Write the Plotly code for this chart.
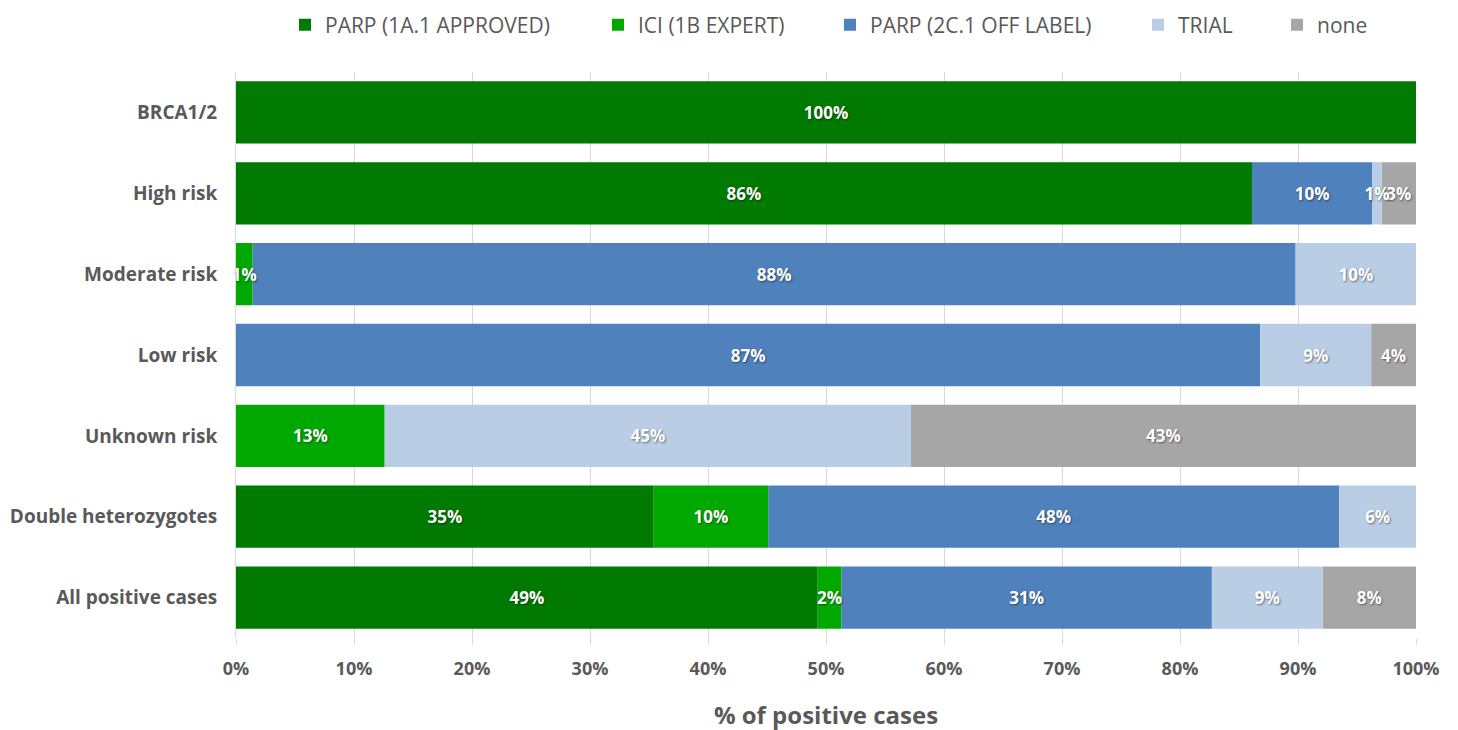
import numpy as np
import plotly.graph_objects as go

categories = ["BRCA1/2", "High risk", "Moderate risk", "Low risk", "Unknown risk",
              "Double heterozygotes", "All positive cases"]

series_names = ["PARP (1A.1 APPROVED)", "ICI (1B EXPERT)", "PARP (2C.1 OFF LABEL)", "TRIAL", "none"]

parp_1a = [100.0, 86.1, 0.0, 0.0, 0.0, 35.4, 49.3]
ici_1b = [0.0, 0.0, 1.4, 0.0, 12.6, 9.7, 2.0]
parp_2c = [0.0, 10.2, 88.4, 86.8, 0.0, 48.4, 31.4]
trial = [0.0, 0.8, 10.2, 9.4, 44.6, 6.5, 9.4]
none_ = [0.0, 2.9, 0.0, 3.8, 42.8, 0.0, 7.9]

series_values = [parp_1a, ici_1b, parp_2c, trial, none_]
colors = ["#007A00", "#00A800", "#4F81BD", "#B9CDE5", "#A6A6A6"]

tick_vals = [0, 10, 20, 30, 40, 50, 60, 70, 80, 90, 100]
tick_text = ["0%", "10%", "20%", "30%", "40%", "50%", "60%", "70%", "80%", "90%", "100%"]

FONT = "Open Sans"
W, H = 1458, 730

legend_ids = ["legend", "legend2", "legend3", "legend4", "legend5"]
legend_left_px = [285, 598, 830, 1138, 1277]

# stacked bases (cumulative sums in series order); traces drawn in an order
# that keeps the small segment labels on top, as in the reference
arr = np.array(series_values)
bases = np.vstack([np.zeros(arr.shape[1]), np.cumsum(arr, axis=0)[:-1]])
draw_order = [0, 2, 4, 1, 3]

fig = go.Figure()
for i in draw_order:
    vals = series_values[i]
    texts = [f"{round(v):d}%" if v > 0 else "" for v in vals]
    fig.add_trace(go.Bar(
        y=categories, x=vals, base=bases[i], name=series_names[i], orientation="h",
        legend=legend_ids[i],
        marker=dict(color=colors[i], line=dict(width=0)),
        text=texts, textposition="inside", insidetextanchor="middle",
        textangle=0, constraintext="none", cliponaxis=False,
        textfont=dict(family=FONT, size=17, color="white", weight="bold",
                      shadow="1px 1px 2px rgba(0,0,0,0.45)"),
    ))

legend_style = dict(orientation="h", xanchor="left", yanchor="middle",
                    xref="container", yref="container", y=1 - 17 / H,
                    font=dict(family=FONT, size=21, color="#595959"),
                    bgcolor="rgba(0,0,0,0)", borderwidth=0)
legends = {}
for lid, px in zip(legend_ids, legend_left_px):
    legends[lid] = dict(legend_style, x=(px - 8) / W)

fig.update_layout(
    barmode="overlay",
    bargap=0.23,
    width=W, height=H,
    margin=dict(l=228, r=50, t=64, b=100),
    paper_bgcolor="white", plot_bgcolor="white",
    uniformtext=dict(minsize=17, mode="show"),
    font=dict(family=FONT, color="#595959"),
    showlegend=True,
    **legends,
)

fig.update_xaxes(
    range=[0, 100.0001], tickvals=tick_vals, ticktext=tick_text,
    showgrid=True, gridcolor="#D9D9D9", gridwidth=1,
    ticks="outside", ticklen=6, tickcolor="#D9D9D9", ticklabelstandoff=8,
    tickfont=dict(family=FONT, size=18, color="#595959", weight="bold"),
    title=dict(text="% of positive cases", standoff=28,
               font=dict(family=FONT, size=24, color="#595959", weight="bold")),
    zeroline=False, showline=False, automargin=False,
)
fig.update_yaxes(
    categoryorder="array", categoryarray=categories, autorange="reversed",
    tickfont=dict(family=FONT, size=19, color="#595959", weight="bold"),
    ticks="", ticklabelstandoff=14, showgrid=False, showline=True, linecolor="#D9D9D9",
    automargin=False,
)

fig.write_html("out.html")
